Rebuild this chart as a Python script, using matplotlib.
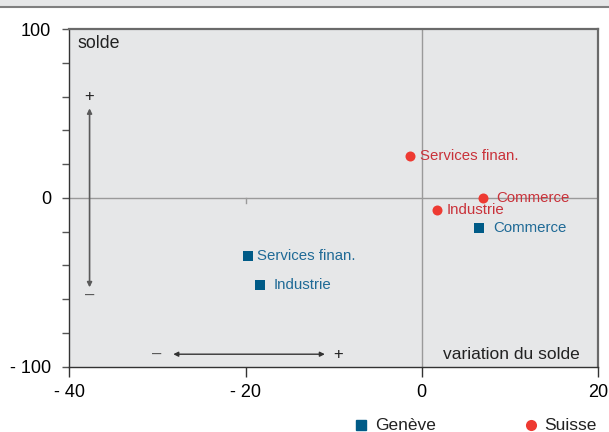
import matplotlib
matplotlib.use("Agg")
import matplotlib.pyplot as plt
from matplotlib.patches import Rectangle
from matplotlib.lines import Line2D

plt.rcParams['font.family'] = ['Liberation Sans', 'DejaVu Sans']

# Data
categories = ["Services finan.", "Commerce", "Industrie"]
suisse_x = [-1.3, 7.0, 1.7]
suisse_y = [24.7, 0.0, -7.3]
geneve_x = [-19.75, 6.5, -18.35]
geneve_y = [-34.5, -18.1, -51.7]
xticks = [-40, -20, 0, 20]
xticklabels = ["- 40", "- 20", "0", "20"]
yticks = [-100, 0, 100]
yticklabels = ["- 100", "0", "100"]
series_names = ["Genève", "Suisse"]

# styles
red = '#ee3a32'
red_txt = '#c9323a'
blue = '#005b87'
blue_txt = '#1f6a96'
bg = '#e6e7e8'
suisse_off = [10, 13, 10]
geneve_off = [9, 14, 14]

W, H = 609, 432
fig = plt.figure(figsize=(W / 100, H / 100), dpi=100)
ax = fig.add_axes([69.3 / W, 1 - 366.7 / H, (598 - 69.3) / W, (366.7 - 29) / H])
ax.set_facecolor(bg)
ax.set_xlim(-40, 20)
ax.set_ylim(-100, 100)

# top band
fig.patches.append(Rectangle((0, 1 - 6.5 / H), 1, 6.5 / H, transform=fig.transFigure,
                             facecolor=bg, edgecolor='none', zorder=0))
fig.add_artist(Line2D([0, 1], [1 - 6.5 / H, 1 - 6.5 / H], transform=fig.transFigure,
                      color='#7f7f7f', lw=1.5))

# zero lines
ax.axhline(0, color='#9a9a9a', lw=1, zorder=1)
ax.axvline(0, color='#9a9a9a', lw=1, zorder=1)
ax.plot([-20, -20], [0, -3], color='#9a9a9a', lw=1, zorder=1)

ax.set_xticks(xticks)
ax.set_xticklabels(xticklabels)
ax.set_yticks(yticks)
ax.set_yticklabels(yticklabels)
ax.set_yticks(list(range(-80, 100, 20)), minor=True)
ax.tick_params(axis='y', which='both', length=5, width=1, color='#555555', pad=8, labelsize=13)
ax.tick_params(axis='x', which='both', length=7.5, width=1, color='#333333', pad=5, labelsize=13)
for s in ['left', 'bottom']:
    ax.spines[s].set_color('#333333')
    ax.spines[s].set_linewidth(1)
for s in ['top', 'right']:
    ax.spines[s].set_color('#6a6a6a')
    ax.spines[s].set_linewidth(1.6)

# points
ax.scatter(suisse_x, suisse_y, s=52, marker='o', color=red, zorder=3, linewidths=0)
ax.scatter(geneve_x, geneve_y, s=48, marker='s', color=blue, zorder=3, linewidths=0)
for c, x, y, o in zip(categories, suisse_x, suisse_y, suisse_off):
    ax.annotate(c, (x, y), xytext=(o * 0.72, 0), textcoords='offset points',
                va='center', ha='left', color=red_txt, fontsize=10.8)
for c, x, y, o in zip(categories, geneve_x, geneve_y, geneve_off):
    ax.annotate(c, (x, y), xytext=(o * 0.72, 0), textcoords='offset points',
                va='center', ha='left', color=blue_txt, fontsize=10.8)

# arrows
ax.annotate('', xy=(-37.7, 53), xytext=(-37.7, -53),
            arrowprops=dict(arrowstyle='<|-|>', color='#5a5a5a', lw=1.2,
                            mutation_scale=7, shrinkA=0, shrinkB=0))
ax.text(-37.7, 60.2, '+', ha='center', va='center', fontsize=12, color='#222222')
ax.text(-37.7, -57.5, '\u2013', ha='center', va='center', fontsize=12, color='#555555')
ax.annotate('', xy=(-11.0, -92.6), xytext=(-28.2, -92.6),
            arrowprops=dict(arrowstyle='<|-|>', color='#333333', lw=1,
                            mutation_scale=7, shrinkA=0, shrinkB=0))
ax.text(-30.1, -92.6, '\u2013', ha='center', va='center', fontsize=12, color='#555555')
ax.text(-9.5, -92.8, '+', ha='center', va='center', fontsize=12, color='#222222')

ax.text(-39.1, 91.6, 'solde', ha='left', va='center', fontsize=12.8, color='#222222')
ax.text(17.9, -92.6, 'variation du solde', ha='right', va='center', fontsize=12.5, color='#222222')

# legend
def px(x, y):
    return x / W, 1 - y / H
fig.add_artist(Line2D([px(361, 0)[0]], [px(0, 425)[1]], marker='s', markersize=7,
                      color=blue, linestyle='none', transform=fig.transFigure))
fig.text(*px(375, 425), series_names[0], ha='left', va='center', fontsize=12.5, color='#222222')
fig.add_artist(Line2D([px(531, 0)[0]], [px(0, 425)[1]], marker='o', markersize=8,
                      color=red, linestyle='none', markeredgewidth=0, transform=fig.transFigure))
fig.text(*px(544, 425), series_names[1], ha='left', va='center', fontsize=12.5, color='#222222')

fig.savefig('out.png', dpi=100)
